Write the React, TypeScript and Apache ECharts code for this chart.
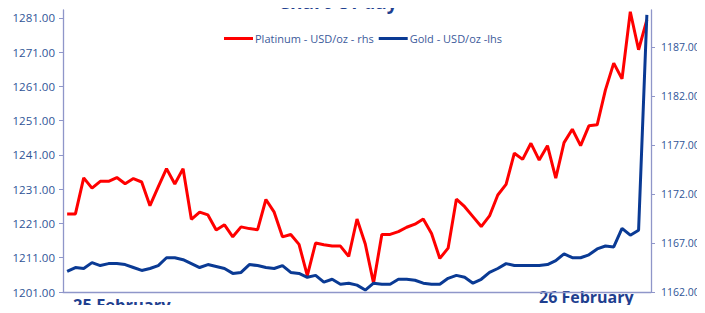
import React, { useEffect, useRef } from "react";
import * as echarts from "echarts";

const platinum = [
  1223.8, 1223.8, 1234.3, 1231.3, 1233.3, 1233.3, 1234.4, 1232.6, 1234.1, 1233.1,
  1226.2, 1231.7, 1237.0, 1232.5, 1237.0, 1222.2, 1224.3, 1223.5, 1219.1, 1220.6,
  1217.1, 1220.0, 1219.5, 1219.2, 1228.0, 1224.3, 1217.1, 1217.8, 1214.9, 1205.8,
  1215.3, 1214.8, 1214.4, 1214.4, 1211.4, 1222.3, 1215.0, 1203.6, 1217.8, 1217.8,
  1218.6, 1219.9, 1220.8, 1222.3, 1218.1, 1210.8, 1213.8, 1228.1, 1225.9, 1223.0,
  1220.1, 1223.2, 1229.3, 1232.4, 1241.5, 1239.7, 1244.4, 1239.5, 1243.7, 1234.2,
  1244.6, 1248.5, 1243.7, 1249.5, 1249.8, 1260.0, 1267.8, 1263.2, 1282.8, 1271.7,
  1280.4,
];

const gold = [
  1164.1, 1164.5, 1164.4, 1165.0, 1164.7, 1164.9, 1164.9, 1164.8, 1164.5, 1164.2,
  1164.4, 1164.7, 1165.5, 1165.5, 1165.3, 1164.9, 1164.5, 1164.8, 1164.6, 1164.4,
  1163.9, 1164.0, 1164.8, 1164.7, 1164.5, 1164.4, 1164.7, 1164.0, 1163.9, 1163.5,
  1163.7, 1163.0, 1163.3, 1162.8, 1162.9, 1162.7, 1162.2, 1162.9, 1162.8, 1162.8,
  1163.3, 1163.3, 1163.2, 1162.9, 1162.8, 1162.8, 1163.4, 1163.7, 1163.5, 1162.9,
  1163.3, 1164.0, 1164.4, 1164.9, 1164.7, 1164.7, 1164.7, 1164.7, 1164.8, 1165.2,
  1165.9, 1165.5, 1165.5, 1165.8, 1166.4, 1166.7, 1166.6, 1168.5, 1167.8, 1168.3,
  1190.3,
];

const categories = platinum.map((_, i) => `t${i + 1}`);
const leftTicks = [1201, 1211, 1221, 1231, 1241, 1251, 1261, 1271, 1281];
const rightTicks = [1162, 1167, 1172, 1177, 1182, 1187];
const dayLabels = ["25 February", "26 February"];
const seriesNames = ["Platinum - USD/oz - rhs", "Gold - USD/oz -lhs"];
const titleText = "Chart Of day";

const AXIS_COLOR = "#8f96c9";
const LABEL_COLOR = "#2f5597";
const DARK_BLUE = "#1f3f8f";

export default function App() {
  const ref = useRef<HTMLDivElement>(null);
  useEffect(() => {
    if (!ref.current) return;
    const chart = echarts.init(ref.current, undefined, { renderer: "svg" });
    const labelFont = { fontFamily: "Open Sans", fontSize: 10.5, color: LABEL_COLOR };
    chart.setOption({
      animation: false,
      backgroundColor: "#ffffff",
      grid: { left: 63, right: 54, top: 10, bottom: 21, containLabel: false },
      legend: {
        data: seriesNames,
        left: 219,
        top: 28,
        icon: "rect",
        itemWidth: 29,
        itemHeight: 3,
        itemGap: 5,
        textStyle: { fontFamily: "Open Sans", fontSize: 11, color: "#3b5a9a", padding: [0, 0, 0, -3] },
      },
      xAxis: {
        type: "category",
        data: categories,
        boundaryGap: true,
        axisLine: { lineStyle: { color: AXIS_COLOR, width: 1.3 } },
        axisTick: { show: false },
        axisLabel: { show: false },
      },
      yAxis: [
        {
          type: "value",
          position: "left",
          min: 1201,
          max: 1283.3,
          axisLine: { show: true, lineStyle: { color: AXIS_COLOR, width: 1.3 } },
          axisTick: { show: true, length: 4, customValues: leftTicks, lineStyle: { color: AXIS_COLOR } },
          axisLabel: {
            ...labelFont,
            fontSize: 11.5,
            customValues: leftTicks,
            margin: 8,
            formatter: (v: number) => v.toFixed(2),
          },
          splitLine: { show: false },
        },
        {
          type: "value",
          position: "right",
          min: 1162,
          max: 1190.8,
          axisLine: { show: true, lineStyle: { color: AXIS_COLOR, width: 1.3 } },
          axisTick: { show: true, length: 4, customValues: rightTicks, lineStyle: { color: AXIS_COLOR } },
          axisLabel: {
            ...labelFont,
            customValues: rightTicks,
            margin: 10,
            formatter: (v: number) => v.toFixed(2),
          },
          splitLine: { show: false },
        },
      ],
      series: [
        {
          name: seriesNames[0],
          type: "line",
          yAxisIndex: 0,
          data: platinum,
          symbol: "none",
          lineStyle: { color: "#ff0000", width: 3 },
          itemStyle: { color: "#ff0000" },
        },
        {
          name: seriesNames[1],
          type: "line",
          yAxisIndex: 1,
          data: gold,
          symbol: "none",
          lineStyle: { color: "#0a3a94", width: 3 },
          itemStyle: { color: "#0a3a94" },
        },
      ],
      graphic: [
        {
          type: "text",
          left: 278,
          top: -7.5,
          style: { text: titleText, font: "bold 19px 'Open Sans'", fill: DARK_BLUE },
        },
        {
          type: "text",
          left: 73,
          top: 296,
          style: { text: dayLabels[0], font: "bold 16.5px 'Open Sans'", fill: DARK_BLUE },
        },
        {
          type: "text",
          left: 539,
          top: 289,
          style: { text: dayLabels[1], font: "bold 16px 'Open Sans'", fill: DARK_BLUE },
        },
      ],
    });
    return () => chart.dispose();
  }, []);
  return <div ref={ref} style={{ width: 705, height: 313, margin: -8 }} />;
}
